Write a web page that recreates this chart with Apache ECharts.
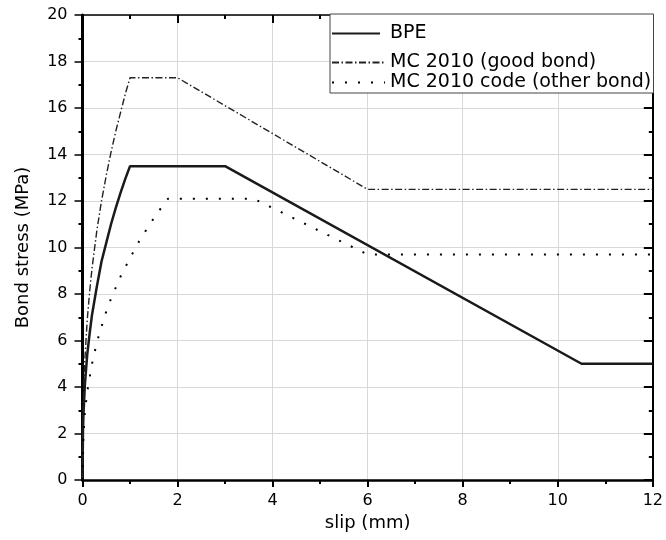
<!DOCTYPE html>
<html>
<head>
<meta charset="utf-8">
<script src="https://cdn.jsdelivr.net/npm/echarts@6/dist/echarts.min.js"></script>
<style>
html,body{margin:0;padding:0;background:#fff;}
#chart{width:666px;height:540px;}
</style>
</head>
<body>
<div id="chart"></div>
<script>
// slip (mm) / bond stress (MPa) pairs
var bpeSlip   = [0, 0.01, 0.02, 0.05, 0.1, 0.15, 0.2, 0.3, 0.4, 0.5, 0.6, 0.7, 0.8, 0.9, 1.0, 3.0, 10.5, 12];
var bpeStress = [0, 2.1, 2.8, 4.1, 5.4, 6.3, 7.1, 8.3, 9.4, 10.2, 11.0, 11.7, 12.35, 12.95, 13.5, 13.5, 5.0, 5.0];

var goodSlip   = [0, 0.01, 0.02, 0.05, 0.1, 0.15, 0.2, 0.3, 0.4, 0.5, 0.6, 0.7, 0.8, 0.9, 1.0, 2.0, 6.0, 12];
var goodStress = [0, 2.7, 3.6, 5.2, 6.9, 8.1, 9.1, 10.7, 12.0, 13.1, 14.1, 15.0, 15.8, 16.6, 17.3, 17.3, 12.5, 12.5];

var otherSlip   = [0, 0.02, 0.05, 0.1, 0.2, 0.3, 0.4, 0.5, 0.6, 0.8, 1.0, 1.2, 1.4, 1.6, 1.8, 3.6, 6.0, 12];
var otherStress = [0, 2.0, 2.9, 3.8, 5.0, 5.9, 6.6, 7.25, 7.8, 8.75, 9.55, 10.3, 10.95, 11.55, 12.1, 12.1, 9.7, 9.7];

var seriesNames = ['BPE', 'MC 2010 (good bond)', 'MC 2010 code (other bond)'];
var xTitle = 'slip (mm)';
var yTitle = 'Bond stress (MPa)';

function pairs(xs, ys) { return xs.map(function (x, i) { return [x, ys[i]]; }); }

var FONT = 'DejaVu Sans';
var chart = echarts.init(document.getElementById('chart'), null, {renderer: 'canvas'});

function legendRow(name, top, iconW, textPad) {
  return {
    data: [name], left: 331, top: top, orient: 'horizontal',
    padding: 0, itemWidth: iconW, itemHeight: 14,
    selectedMode: false, z: 5,
    itemStyle: {opacity: 0, borderWidth: 0},
    textStyle: {fontFamily: FONT, fontSize: 19, color: '#000', padding: [0, 0, 0, textPad]}
  };
}

chart.setOption({
  animation: false,
  backgroundColor: '#fff',
  grid: {left: 82.5, right: 12, top: 15, bottom: 60, containLabel: false},
  legend: [
    legendRow(seriesNames[0], 24, 48, 5),
    legendRow(seriesNames[1], 53, 53, 0),
    legendRow(seriesNames[2], 73, 53, 0)
  ],
  graphic: [{
    type: 'rect', z: 3, silent: true,
    shape: {x: 330, y: 14, width: 323.5, height: 79},
    style: {fill: '#fff', stroke: '#444', lineWidth: 1}
  }],
  xAxis: [{
    type: 'value', min: 0, max: 12, interval: 2, position: 'bottom',
    name: xTitle, nameLocation: 'middle', nameGap: 33,
    nameTextStyle: {fontFamily: FONT, fontSize: 18, color: '#000'},
    axisLine: {show: true, onZero: false, lineStyle: {color: '#000', width: 2.5}},
    axisTick: {show: true, inside: false, length: 7, lineStyle: {color: '#000', width: 2}},
    minorTick: {show: true, splitNumber: 2, length: 4, lineStyle: {color: '#000', width: 2}},
    axisLabel: {fontFamily: FONT, fontSize: 16, color: '#000', margin: 13},
    splitLine: {show: true, lineStyle: {color: '#d8d8d8', width: 1}}
  }, {
    type: 'value', min: 0, max: 12, interval: 2, position: 'top',
    axisLine: {show: true, onZero: false, lineStyle: {color: '#000', width: 1.5}},
    axisTick: {show: true, inside: true, length: 8, lineStyle: {color: '#000', width: 2}},
    minorTick: {show: true, splitNumber: 2, length: 4, lineStyle: {color: '#000', width: 2}},
    axisLabel: {show: false}, splitLine: {show: false}
  }],
  yAxis: [{
    type: 'value', min: 0, max: 20, interval: 2, position: 'left',
    name: yTitle, nameLocation: 'middle', nameGap: 50, nameRotate: 90,
    nameTextStyle: {fontFamily: FONT, fontSize: 18, color: '#000'},
    axisLine: {show: true, onZero: false, lineStyle: {color: '#000', width: 3}},
    axisTick: {show: true, inside: false, length: 8, lineStyle: {color: '#000', width: 1.5}},
    minorTick: {show: true, splitNumber: 2, length: 4, lineStyle: {color: '#000', width: 2}},
    axisLabel: {fontFamily: FONT, fontSize: 16, color: '#000', margin: 15},
    splitLine: {show: true, lineStyle: {color: '#d8d8d8', width: 1}}
  }, {
    type: 'value', min: 0, max: 20, interval: 2, position: 'right',
    axisLine: {show: true, onZero: false, lineStyle: {color: '#000', width: 2}},
    axisTick: {show: true, inside: true, length: 9, lineStyle: {color: '#000', width: 2}},
    minorTick: {show: true, splitNumber: 2, length: 4, lineStyle: {color: '#000', width: 2}},
    axisLabel: {show: false}, splitLine: {show: false}
  }],
  series: [{
    name: seriesNames[0], type: 'line', xAxisIndex: 0, yAxisIndex: 0,
    data: pairs(bpeSlip, bpeStress), symbol: 'none', smooth: false, z: 2,
    lineStyle: {color: '#1a1a1a', width: 2.5, type: 'solid'},
    itemStyle: {color: '#1a1a1a'}
  }, {
    name: seriesNames[1], type: 'line', xAxisIndex: 0, yAxisIndex: 0,
    data: pairs(goodSlip, goodStress), symbol: 'none', smooth: false, z: 2,
    lineStyle: {color: '#222', width: 1.4, type: [7, 2.5, 1.5, 2.5]},
    itemStyle: {color: '#222'}
  }, {
    name: seriesNames[2], type: 'line', xAxisIndex: 0, yAxisIndex: 0,
    data: pairs(otherSlip, otherStress), symbol: 'none', smooth: false, z: 2,
    lineStyle: {color: '#000', width: 2, type: [2, 11]},
    itemStyle: {color: '#000'}
  }]
});
</script>
</body>
</html>
